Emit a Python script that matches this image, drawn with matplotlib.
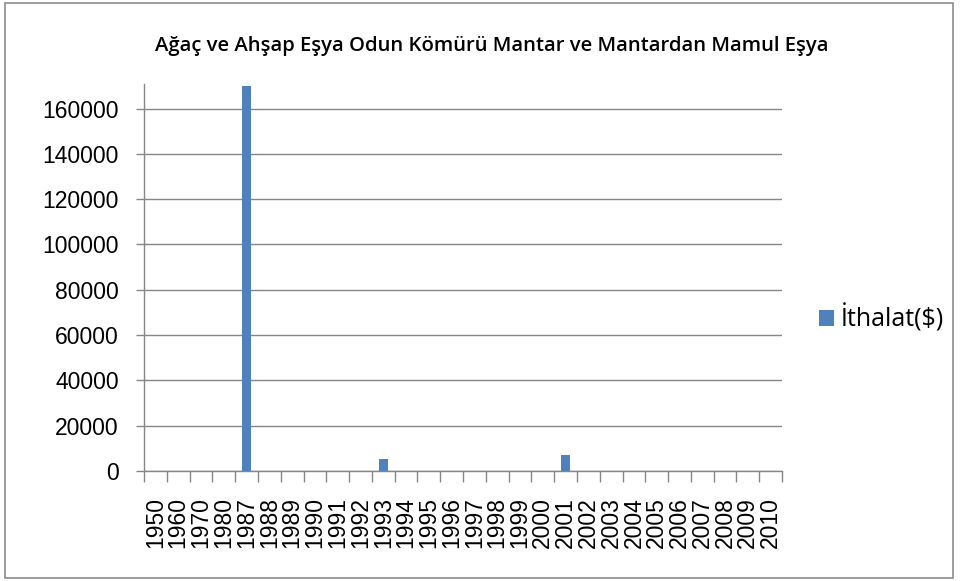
import numpy as np
import matplotlib.pyplot as plt
from matplotlib.patches import Rectangle
from matplotlib.ticker import FixedLocator, NullFormatter

years = ["1950", "1960", "1970", "1980", "1987", "1988", "1989", "1990", "1991",
         "1992", "1993", "1994", "1995", "1996", "1997", "1998", "1999", "2000",
         "2001", "2002", "2003", "2004", "2005", "2006", "2007", "2008", "2009", "2010"]
ithalat = [0, 0, 0, 0, 170000, 0, 0, 0, 0,
           0, 5200, 0, 0, 0, 0, 0, 0, 0,
           6950, 0, 0, 0, 0, 0, 0, 0, 0, 0]
yticks = [0, 20000, 40000, 60000, 80000, 100000, 120000, 140000, 160000]

BLUE = "#4F81BD"
GRID = "#868686"

fig = plt.figure(figsize=(9.6, 5.81), dpi=100)
fig.patches.append(Rectangle((0.005, 0.006), 0.988, 0.988, transform=fig.transFigure,
                             fill=False, edgecolor="#8c8c8c", linewidth=1.2))

ax = fig.add_axes([0.15, 0.1893, 0.6646, 0.6656])
x = np.arange(len(years))
ax.bar(x, ithalat, width=0.41, color=BLUE, zorder=3, label="İthalat($)")

ax.set_xlim(-0.5, len(years) - 0.5)
ax.set_ylim(0, 170700)
ax.set_yticks(yticks)
ax.set_yticklabels([str(v) for v in yticks], fontsize=16.5, family="Liberation Sans")
ax.yaxis.grid(True, color=GRID, linewidth=1.0, zorder=0)

# category boundaries carry the tick marks, centres carry the labels
ax.xaxis.set_major_locator(FixedLocator(np.arange(-0.5, len(years), 1.0)))
ax.xaxis.set_major_formatter(NullFormatter())
ax.xaxis.set_minor_locator(FixedLocator(x))
ax.set_xticklabels(years, minor=True, rotation=90, fontsize=16.5,
                   family="Liberation Sans")
ax.tick_params(axis="x", which="major", length=8, color=GRID, width=1)
ax.tick_params(axis="x", which="minor", length=0, pad=19)
ax.tick_params(axis="y", length=6, color=GRID, width=1, pad=12)

for s in ["top", "right"]:
    ax.spines[s].set_visible(False)
for s in ["left", "bottom"]:
    ax.spines[s].set_color(GRID)
    ax.spines[s].set_linewidth(1.0)

fig.text(0.5125, 0.92, "Ağaç ve Ahşap Eşya Odun Kömürü Mantar ve Mantardan Mamul Eşya",
         ha="center", va="center", fontsize=14.6, family="Open Sans", fontweight="semibold")

ax.legend(loc="center left", bbox_to_anchor=(1.022, 0.395), frameon=False,
          prop={"family": "Open Sans", "size": 18}, handlelength=0.6,
          handleheight=0.6, handletextpad=0.3)

fig.savefig("out.png", dpi=100)
